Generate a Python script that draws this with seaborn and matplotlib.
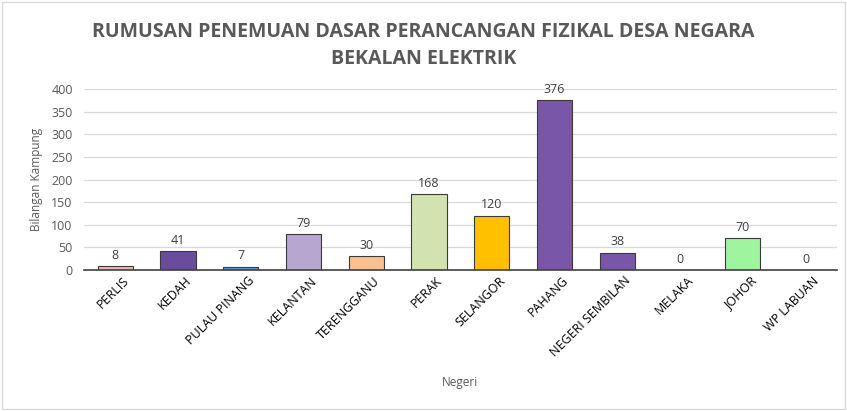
import matplotlib
matplotlib.use("Agg")
import matplotlib.pyplot as plt
import matplotlib.transforms as mtransforms
import seaborn as sns
import pandas as pd
from matplotlib.patches import Rectangle

states = ["PERLIS", "KEDAH", "PULAU PINANG", "KELANTAN", "TERENGGANU", "PERAK",
          "SELANGOR", "PAHANG", "NEGERI SEMBILAN", "MELAKA", "JOHOR", "WP LABUAN"]
counts = [8, 41, 7, 79, 30, 168, 120, 376, 38, 0, 70, 0]
colors = ["#E6B9B8", "#6A4C9C", "#5B9BD5", "#B7A6CF", "#FAC090", "#D3E3B0",
          "#FFC000", "#7A56A8", "#7A56A8", "#FFFFFF", "#9EF59E", "#FFFFFF"]
yticks = [0, 50, 100, 150, 200, 250, 300, 350, 400]

df = pd.DataFrame({"Negeri": states, "Bilangan": counts})

sns.set_theme(style="white")
plt.rcParams['font.family'] = ['Open Sans', 'DejaVu Sans']

fig = plt.figure(figsize=(8.47, 4.11), dpi=100)
ax = fig.add_axes([0.099, 0.343, 0.889, 0.440])

sns.barplot(data=df, x="Negeri", y="Bilangan", hue="Negeri", palette=colors,
            legend=False, width=0.56, ax=ax, edgecolor="#3a3a3a", linewidth=0.8,
            saturation=1)

ax.set_ylim(0, 400)
ax.set_yticks(yticks)
ax.set_yticklabels([str(v) for v in yticks], fontsize=9, color="#595959")
ax.yaxis.grid(True, color="#D9D9D9", linewidth=0.9)
ax.set_axisbelow(True)
for s in ["top", "right", "left"]:
    ax.spines[s].set_visible(False)
ax.spines["bottom"].set_color("#404040")
ax.spines["bottom"].set_linewidth(1.2)
ax.tick_params(axis="y", length=0, pad=8)
ax.tick_params(axis="x", length=0, pad=3)
ax.set_xlim(-0.5, len(states) - 0.5)

offset = mtransforms.ScaledTranslation(5 / 72, 0, fig.dpi_scale_trans)
for lbl in ax.get_xticklabels():
    lbl.set_rotation(45)
    lbl.set_ha("right")
    lbl.set_rotation_mode("anchor")
    lbl.set_fontsize(9)
    lbl.set_color("#000000")
    lbl.set_transform(lbl.get_transform() + offset)

for i, v in enumerate(counts):
    ax.text(i, v + 10, str(v), ha="center", va="bottom", fontsize=9, color="#404040")

ax.set_ylabel("Bilangan Kampung", fontsize=8.5, color="#595959", labelpad=6)
ax.set_xlabel("")
fig.text(0.543, 0.07, "Negeri", ha="center", va="center", fontsize=8.5, color="#595959")

fig.text(0.5, 0.922, "RUMUSAN PENEMUAN DASAR PERANCANGAN FIZIKAL DESA NEGARA",
         ha="center", va="center", fontsize=14, fontweight="bold", color="#595959")
fig.text(0.5, 0.856, "BEKALAN ELEKTRIK",
         ha="center", va="center", fontsize=14, fontweight="bold", color="#595959")

fig.patches.append(Rectangle((0.002, 0.004), 0.996, 0.992, transform=fig.transFigure,
                             fill=False, edgecolor="#D9D9D9", linewidth=1))

fig.savefig("out.png", dpi=100, facecolor="white")
